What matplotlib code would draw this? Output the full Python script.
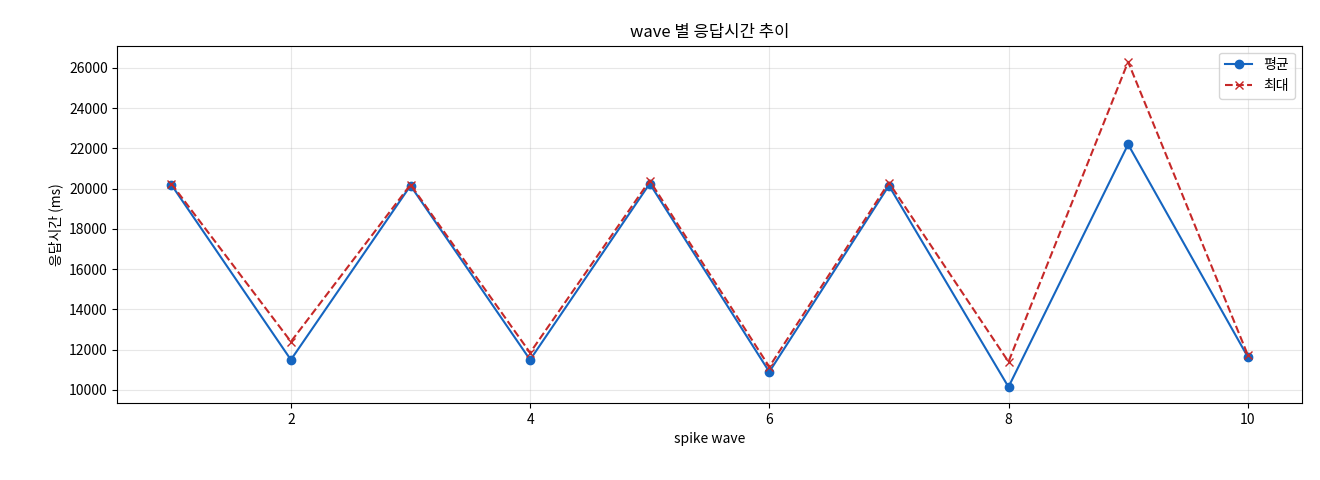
import matplotlib
matplotlib.use("Agg")
import matplotlib.pyplot as plt

plt.rcParams['font.family'] = ['Noto Sans CJK KR', 'DejaVu Sans']
plt.rcParams['axes.unicode_minus'] = False

waves = [1, 2, 3, 4, 5, 6, 7, 8, 9, 10]
mean_ms = [20200, 11500, 20150, 11500, 20250, 10900, 20150, 10150, 22200, 11650]
max_ms = [20250, 12400, 20200, 11850, 20400, 11150, 20300, 11400, 26300, 11750]

fig, ax = plt.subplots(figsize=(13.2, 4.8), dpi=100)
ax.plot(waves, mean_ms, '-o', color='#1565c0', label='평균', markersize=6)
ax.plot(waves, max_ms, '--x', color='#c62828', label='최대', markersize=6)
ax.set_title('wave 별 응답시간 추이')
ax.set_xlabel('spike wave')
ax.set_ylabel('응답시간 (ms)')
ax.set_yticks(range(10000, 26001, 2000))
ax.grid(True, alpha=0.3)
ax.legend(loc='upper right')
fig.subplots_adjust(left=0.089, right=0.986, top=0.905, bottom=0.16)
fig.savefig('out.png')
